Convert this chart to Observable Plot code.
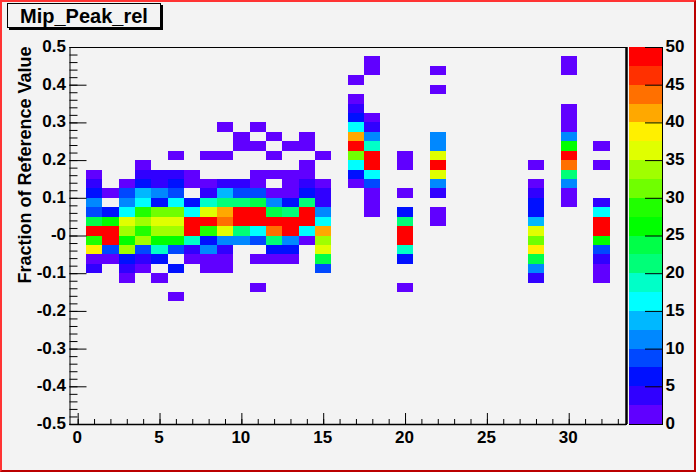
<!DOCTYPE html>
<html>
<head>
<meta charset="utf-8">
<script src="https://cdn.jsdelivr.net/npm/d3@7"></script>
<script src="https://cdn.jsdelivr.net/npm/@observablehq/plot@0.6"></script>
<style>
html,body{margin:0;padding:0;background:#f3f3f3;overflow:hidden}
#canvas{position:relative;width:696px;height:472px;box-sizing:border-box;background:#f3f3f3;
  border-style:solid;border-width:2px;border-color:#ff3333 #bb0000 #bb0000 #ff3333}
#canvas svg{position:absolute;left:-2px;top:-2px;max-width:none;width:696px;height:472px}
#title{position:absolute;left:5px;top:1px;width:152px;height:23px;box-sizing:content-box;border:1px solid #000;
  box-shadow:2px 2px 0 #000;font:bold 20px "Liberation Sans",Arial,sans-serif;line-height:24px;text-align:center;color:#000;background:#f3f3f3;z-index:2}
</style>
</head>
<body>
<div id="canvas"><div id="title">Mip_Peak_rel</div></div>
<script>
const chartTitle = "Mip_Peak_rel";
const yTitle = "Fraction of Reference Value";
const xMajor = [0,5,10,15,20,25,30];
const xMinor = d3.range(0,34);
const yMajor = [-0.5,-0.4,-0.3,-0.2,-0.1,0,0.1,0.2,0.3,0.4,0.5];
const yLabels = ["-0.5","-0.4","-0.3","-0.2","-0.1","-0","0.1","0.2","0.3","0.4","0.5"];
const yMinor = d3.range(-50,51,2).map(d=>d/100);
const zTicks = [0,5,10,15,20,25,30,35,40,45,50];
const zLevels = [0,2.5,5,7.5,10,12.5,15,17.5,20,22.5,25,27.5,30,32.5,35,37.5,40,42.5,45,47.5];
const palette = ["#6000ff","#3000ff","#0010ff","#0048ff","#0088ff","#00b8ff","#00ffff","#00ffc8","#00ff78","#00ff48",
                 "#00ff00","#20ff00","#70ff00","#a0ff00","#e0ff00","#fff000","#ffa800","#ff7000","#ff3000","#ff0000"];
// lower edge of each row (bin height 0.025), its occupied x bins, and the counts in them
const rowLower = [0.45,0.425,0.4,0.375,0.35,0.325,0.3,0.275,0.25,0.225,0.2,0.175,0.15,0.125,0.1,0.075,0.05,0.025,0,-0.025,-0.05,-0.075,-0.1,-0.125,-0.15,-0.175];
const rowBins = [
 [18,30],
 [18,22,30],
 [17],
 [22],
 [17],
 [17,30],
 [17,18,30],
 [9,11,17,18,30],
 [10,12,14,17,18,22,30],
 [10,11,13,14,17,18,22,30,32],
 [6,8,9,12,15,17,18,20,22,30],
 [4,14,17,18,20,22,28,30,32],
 [1,4,5,6,7,11,12,13,14,17,18,22,30],
 [1,3,4,5,6,7,8,9,10,11,13,14,15,17,18,22,28,30],
 [1,2,3,4,5,6,8,9,10,11,12,13,14,15,18,20,22,28,30],
 [1,3,4,5,6,7,8,9,10,11,12,13,14,15,18,28,30,32],
 [1,2,3,4,5,6,7,8,9,10,11,12,13,14,15,18,20,22,28,32],
 [1,2,3,4,5,6,7,8,9,10,11,12,13,14,15,20,22,28,32],
 [1,2,3,4,5,6,7,8,9,10,11,12,13,14,15,20,28,32],
 [1,2,3,4,5,6,7,8,9,10,11,12,13,14,15,20,28,32],
 [1,2,3,4,5,6,7,8,9,12,13,15,20,28,32],
 [1,2,3,4,5,7,8,9,11,12,13,15,20,28,32],
 [1,3,4,6,8,9,15,28,32],
 [3,5,28,32],
 [11,20],
 [6]
];
const rowCounts = [
 [1,1],
 [1,1,1],
 [1],
 [1],
 [1],
 [4,1],
 [6,1,1],
 [1,1,16,4,1],
 [1,1,1,41,11,11,11],
 [1,1,1,1,49,19,11,26,1],
 [1,1,1,1,1,31,49,1,36,49],
 [1,1,16,49,1,49,1,44,1],
 [1,4,4,4,1,1,1,1,1,6,16,36,21],
 [4,1,6,4,6,1,1,4,4,1,1,4,1,1,9,11,1,11],
 [6,1,9,14,11,9,4,14,9,9,1,1,6,4,1,1,4,4,1],
 [11,11,16,6,16,6,19,21,21,24,11,6,21,4,1,6,1,4],
 [9,6,16,29,31,31,16,36,41,49,49,24,21,49,11,1,6,1,6,16],
 [24,26,36,34,36,36,49,49,44,49,49,49,49,49,16,21,1,14,49],
 [49,49,34,29,34,34,49,29,36,21,16,44,49,16,41,49,36,49],
 [29,49,26,34,26,26,19,6,11,11,9,21,11,1,34,49,31,26],
 [39,9,34,9,19,9,4,11,4,6,6,36,19,39,9],
 [1,1,6,4,6,1,1,1,1,1,1,24,6,24,4],
 [4,4,1,6,1,1,9,11,1],
 [1,1,4,1],
 [1,1],
 [1]
];

const cells = rowLower.flatMap((y,i)=>rowBins[i].map((b,j)=>({x1:b-0.5,x2:b+0.5,y1:y,y2:y+0.025,z:rowCounts[i][j]})));
const bands = zLevels.map(z=>({y1:z,y2:z+2.5,z:z+1}));
const colorScale = {type:"threshold",domain:zLevels.slice(1),range:palette};
const font = {fontSize:17,fontWeight:"bold",fontFamily:"Liberation Sans, Arial, sans-serif"};
const W=696,H=472;

const main = Plot.plot({
  width:W,height:H,marginLeft:69.5,marginRight:70,marginTop:47,marginBottom:48,
  style:{background:"none",color:"#000",overflow:"visible"},
  x:{domain:[-0.5,33.5],label:null},
  y:{domain:[-0.5,0.5],label:null},
  color:colorScale,
  marks:[
    Plot.rect(cells,{x1:"x1",x2:"x2",y1:"y1",y2:"y2",fill:"z",inset:0,shapeRendering:"crispEdges"}),
    Plot.frame({stroke:"#000",strokeWidth:1}),
    Plot.ruleX([33.5],{stroke:"#000",strokeWidth:2.5}),
    Plot.ruleY([-0.5],{stroke:"#000",strokeWidth:1.5}),
    Plot.axisY(yMinor,{anchor:"left",tickSize:-8,text:null,label:null,tickFormat:null,stroke:"#000"}),
    Plot.axisY(yMajor,{anchor:"left",tickSize:-17,text:null,label:null,tickFormat:null,stroke:"#000"}),
    Plot.axisY(yMajor,{anchor:"left",tickSize:0,tickPadding:4,dy:-1,label:null,tickFormat:(d,i)=>yLabels[i],...font}),
    Plot.axisX(xMinor,{anchor:"bottom",tickSize:-5,text:null,label:null,tickFormat:null,stroke:"#000"}),
    Plot.axisX(xMajor,{anchor:"bottom",tickSize:-11,text:null,label:null,tickFormat:null,stroke:"#000"}),
    Plot.axisX(xMajor,{anchor:"bottom",tickSize:0,tickPadding:6,dx:-1,label:null,...font}),
    Plot.text([yTitle],{frameAnchor:"top-left",dx:-45,dy:-1,rotate:-90,textAnchor:"end",lineAnchor:"middle",...font,fontSize:18})
  ]
});

const bar = Plot.plot({
  width:W,height:H,marginLeft:629,marginRight:34,marginTop:47,marginBottom:48,
  style:{background:"none",color:"#000",overflow:"visible"},
  x:{domain:[0,1],axis:null},
  y:{domain:[0,50],label:null},
  color:colorScale,
  marks:[
    Plot.rect(bands,{x1:0,x2:1,y1:"y1",y2:"y2",fill:"z",inset:0,shapeRendering:"crispEdges"}),
    Plot.ruleX([1],{stroke:"#000"}),
    Plot.ruleY([0],{stroke:"#000"}),
    Plot.axisY(zTicks,{anchor:"right",tickSize:-18,text:null,label:null,tickFormat:null,stroke:"#000"}),
    Plot.axisY(zTicks,{anchor:"right",tickSize:0,tickPadding:3,dy:-1,label:null,...font})
  ]
});

const canvas = document.getElementById("canvas");
canvas.prepend(bar);
canvas.prepend(main);
document.getElementById("title").textContent = chartTitle;
</script>
</body>
</html>
